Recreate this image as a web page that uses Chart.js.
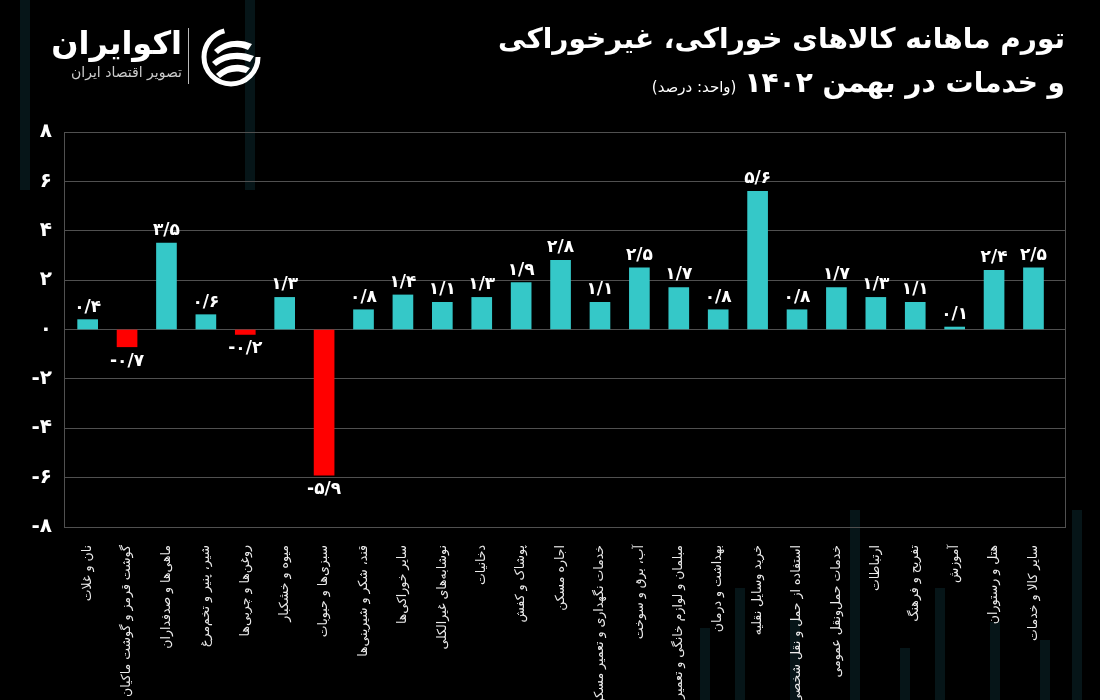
<!DOCTYPE html>
<html lang="fa">
<head>
<meta charset="utf-8">
<title>تورم ماهانه کالاهای خوراکی، غیرخوراکی و خدمات در بهمن ۱۴۰۲</title>
<script src="https://cdn.jsdelivr.net/npm/chart.js@4"></script>
<style>
    html, body { margin: 0; padding: 0; background: #000; }
    #wrap { position: relative; width: 1100px; height: 700px; overflow: hidden; background: #000; font-family: "DejaVu Sans", sans-serif; color: #fff; }
    #deco span { position: absolute; width: 10px; background: #061518; }
    #chart { position: absolute; left: 0; top: 0; }
    .title { position: absolute; right: 35px; direction: rtl; white-space: nowrap; font-weight: bold; }
    #t1 { top: 22px; font-size: 28px; }
    #t2 { top: 66px; font-size: 28px; }
    #t2 small { font-size: 15px; font-weight: normal; margin-right: 8px; }
    #brand { position: absolute; left: 40px; top: 24px; direction: rtl; width: 142px; text-align: right; }
    #brand .name { font-size: 32px; font-weight: bold; line-height: 38px; }
    #brand .sub { font-size: 14px; color: #ccc; line-height: 20px; }
    #sep { position: absolute; left: 188px; top: 28px; width: 1px; height: 56px; background: #bbb; }
</style>
</head>
<body>
<div id="wrap">
    <div id="deco">
        <span style="left:20px;top:0;height:190px"></span>
        <span style="left:245px;top:0;height:190px"></span>
        <span style="left:700px;top:628px;height:72px"></span>
        <span style="left:735px;top:588px;height:112px"></span>
        <span style="left:790px;top:620px;height:80px"></span>
        <span style="left:850px;top:510px;height:190px"></span>
        <span style="left:900px;top:648px;height:52px"></span>
        <span style="left:935px;top:588px;height:112px"></span>
        <span style="left:990px;top:622px;height:78px"></span>
        <span style="left:1040px;top:640px;height:60px"></span>
        <span style="left:1072px;top:510px;height:190px"></span>
    </div>
    <canvas id="chart" width="1100" height="700"></canvas>
    <div class="title" id="t1">تورم ماهانه کالاهای خوراکی، غیرخوراکی</div>
    <div class="title" id="t2">و خدمات در بهمن ۱۴۰۲<small>(واحد: درصد)</small></div>
    <div id="brand"><div class="name">اکوایران</div><div class="sub">تصویر اقتصاد ایران</div></div>
    <div id="sep"></div>
    <svg style="position:absolute;left:200px;top:26px" width="62" height="62" viewBox="0 0 62 62">
        <circle cx="31" cy="31" r="27" fill="none" stroke="#fff" stroke-width="5" stroke-dasharray="120 50"/>
        <path d="M14 24 C24 14, 40 12, 52 18 L48 24 C38 19, 26 20, 18 28 Z" fill="#fff"/>
        <path d="M12 36 C22 26, 40 24, 54 30 L50 36 C38 31, 26 32, 16 40 Z" fill="#fff"/>
        <path d="M16 48 C26 38, 40 36, 50 42 L46 47 C36 44, 28 45, 20 52 Z" fill="#fff"/>
    </svg>
</div>
<script>
    "use strict";

    // categories, drawn left to right
    const categories = [
        'نان و غلات',
        'گوشت قرمز و گوشت ماکیان',
        'ماهی‌ها و صدفداران',
        'شیر، پنیر و تخم‌مرغ',
        'روغن‌ها و چربی‌ها',
        'میوه و خشکبار',
        'سبزی‌ها و حبوبات',
        'قند، شکر و شیرینی‌ها',
        'سایر خوراکی‌ها',
        'نوشابه‌های غیرالکلی',
        'دخانیات',
        'پوشاک و کفش',
        'اجاره مسکن',
        'خدمات نگهداری و تعمیر مسکن',
        'آب، برق و سوخت',
        'مبلمان و لوازم خانگی و تعمیرات آن',
        'بهداشت و درمان',
        'خرید وسایل نقلیه',
        'استفاده از حمل و نقل شخصی',
        'خدمات حمل‌ونقل عمومی',
        'ارتباطات',
        'تفریح و فرهنگ',
        'آموزش',
        'هتل و رستوران',
        'سایر کالا و خدمات'
    ];

    // monthly inflation, percent
    const inflation = [0.4, -0.7, 3.5, 0.6, -0.2, 1.3, -5.9, 0.8, 1.4, 1.1, 1.3, 1.9, 2.8,
        1.1, 2.5, 1.7, 0.8, 5.6, 0.8, 1.7, 1.3, 1.1, 0.1, 2.4, 2.5];

    const yTicks = [-8, -6, -4, -2, 0, 2, 4, 6, 8];

    const faDigits = '۰۱۲۳۴۵۶۷۸۹';
    function toFa(str) {
        return String(str).replace(/\d/g, d => faDigits[d]);
    }

    const gridColor = '#505050';

    // value labels above / below each bar
    const valueLabels = {
        id: 'valueLabels',
        afterDatasetsDraw(chart) {
            const ctx = chart.ctx;
            const meta = chart.getDatasetMeta(0);
            ctx.save();
            ctx.fillStyle = '#fff';
            ctx.font = 'bold 17px "DejaVu Sans"';
            ctx.textAlign = 'center';
            meta.data.forEach((bar, i) => {
                const v = inflation[i];
                const txt = toFa(v.toFixed(1).replace('.', '/'));
                if (v >= 0) {
                    ctx.textBaseline = 'bottom';
                    ctx.fillText(txt, bar.x, bar.y - 4);
                } else {
                    ctx.textBaseline = 'top';
                    ctx.fillText(txt, bar.x, bar.y + 6);
                }
            });
            ctx.restore();
        }
    };

    const ctx = document.getElementById('chart').getContext('2d');
    new Chart(ctx, {
        type: 'bar',
        data: {
            datasets: [{
                data: inflation.map((v, i) => ({ x: i, y: v })),
                backgroundColor: inflation.map(v => v < 0 ? '#ff0000' : '#35c8c8'),
                barThickness: 20
            }]
        },
        options: {
            responsive: false,
            animation: false,
            layout: { padding: { left: 0, top: 132, right: 35, bottom: 0 } },
            plugins: {
                legend: { display: false },
                tooltip: { enabled: false }
            },
            scales: {
                x: {
                    type: 'linear',
                    offset: false,
                    min: -0.6,
                    max: 24.8,
                    grid: { display: false },
                    border: { color: gridColor },
                    afterBuildTicks: scale => {
                        scale.ticks = categories.map((c, i) => ({ value: i }));
                    },
                    afterFit: scale => { scale.height = 173; },
                    ticks: {
                        autoSkip: false,
                        maxRotation: 90,
                        minRotation: 90,
                        padding: 10,
                        color: '#ececec',
                        font: { family: 'DejaVu Sans', size: 12.5 },
                        callback: v => categories[v] || ''
                    }
                },
                y: {
                    min: -8,
                    max: 8,
                    afterBuildTicks: scale => {
                        scale.ticks = yTicks.map(v => ({ value: v }));
                    },
                    afterFit: scale => { scale.width = 64; },
                    grid: { color: gridColor, drawTicks: false },
                    border: { color: gridColor },
                    ticks: {
                        padding: 12,
                        color: '#fff',
                        font: { family: 'DejaVu Sans', size: 20, weight: 'bold' },
                        callback: v => toFa(v)
                    }
                },
                y2: {
                    position: 'right',
                    display: true,
                    min: -8,
                    max: 8,
                    afterFit: scale => { scale.width = 0; },
                    grid: { drawOnChartArea: false, drawTicks: false },
                    border: { color: gridColor },
                    ticks: { display: false }
                }
            }
        },
        plugins: [valueLabels]
    });
</script>
</body>
</html>
